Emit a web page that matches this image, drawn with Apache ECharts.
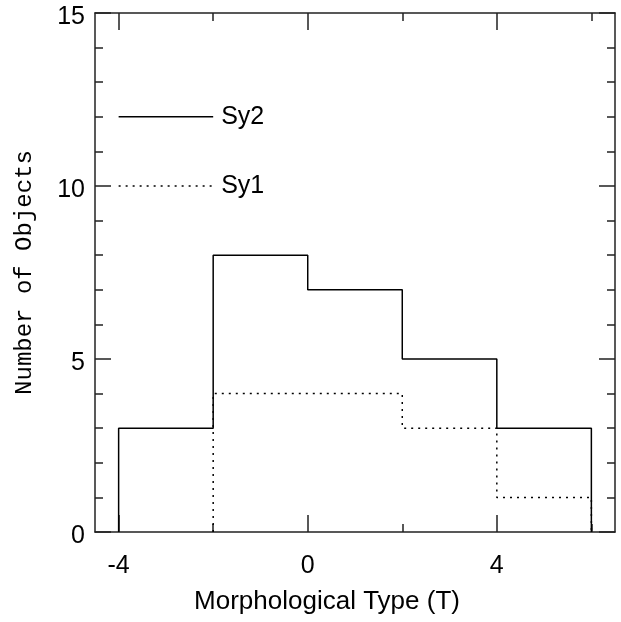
<!DOCTYPE html>
<html>
<head>
<meta charset="utf-8">
<script src="https://cdn.jsdelivr.net/npm/echarts@6/dist/echarts.min.js"></script>
<style>
  html, body { margin: 0; padding: 0; background: #fff; }
  #chart { width: 621px; height: 622px; }
</style>
</head>
<body>
<div id="chart"></div>
<script>
// histogram bins (morphological type T) and counts
const sy2Edges = [-4, -2, 0, 2, 4, 6];
const sy2Counts = [3, 8, 7, 5, 3];
const sy1Edges = [-2, 0, 2, 4, 6];
const sy1Counts = [4, 4, 3, 1];

// in-plot legend samples
const keyX = [-4, -2];
const sy2KeyY = 12;
const sy1KeyY = 10;

const majorX = [-4, 0, 4];
const minorX = [-2, 2, 6];

// outline of a histogram: up from 0, across each bin, back down to 0
function stepOutline(edges, counts) {
  const pts = [[edges[0], 0]];
  counts.forEach((c, i) => {
    pts.push([edges[i], c]);
    pts.push([edges[i + 1], c]);
  });
  pts.push([edges[edges.length - 1], 0]);
  return pts;
}

function keyLine(y) {
  return keyX.map(x => [x, y]);
}

const axisColor = "#222";
const sans = "Liberation Sans";

function xAxisDef(pos, ticks, len, showLine, showLabel) {
  return {
    type: "value", position: pos, min: -4.5, max: 6.5,
    axisLine: { show: showLine, onZero: false, lineStyle: { color: axisColor, width: 1.5 } },
    axisTick: { show: true, inside: true, length: len, customValues: ticks, lineStyle: { color: axisColor, width: 1.5 } },
    axisLabel: { show: showLabel, customValues: ticks, margin: 22, color: "#000", fontFamily: sans, fontSize: 25 },
    splitLine: { show: false }
  };
}

function yAxisDef(pos, showLabel) {
  return {
    type: "value", position: pos, min: 0, max: 15, interval: 5,
    axisLine: { show: true, onZero: false, lineStyle: { color: axisColor, width: 1.5 } },
    axisTick: { show: true, inside: true, length: 16, lineStyle: { color: axisColor, width: 1.5 } },
    minorTick: { show: true, splitNumber: 5, length: 8, lineStyle: { color: axisColor, width: 1.5 } },
    axisLabel: {
      show: showLabel, margin: 10, verticalAlign: "top", lineHeight: 8,
      color: "#000", fontFamily: sans, fontSize: 25
    },
    splitLine: { show: false }
  };
}

const chart = echarts.init(document.getElementById("chart"));

const xBottom = xAxisDef("bottom", majorX, 17, true, true);
xBottom.name = "Morphological Type (T)";
xBottom.nameLocation = "middle";
xBottom.nameGap = 57;
xBottom.nameTextStyle = { color: "#000", fontFamily: sans, fontSize: 26, padding: [0, 56, 0, 0] };

const yLeft = yAxisDef("left", true);
yLeft.name = "Number of Objects";
yLeft.nameLocation = "middle";
yLeft.nameGap = 58;
yLeft.nameTextStyle = { color: "#000", fontFamily: "Liberation Mono", fontSize: 24 };

const solid = { color: "#000", width: 1.5 };
const dotted = { color: "#000", width: 1.5, type: [2, 5] };
function keyLabel(text) {
  return { show: true, formatter: text, distance: 8, color: "#000", fontFamily: sans, fontSize: 25 };
}

chart.setOption({
  animation: false,
  grid: { left: 95, top: 13, right: 6, bottom: 90, outerBoundsMode: "none" },
  xAxis: [
    xBottom,
    xAxisDef("bottom", minorX, 8, false, false),
    xAxisDef("top", majorX, 17, true, false),
    xAxisDef("top", minorX, 8, false, false)
  ],
  yAxis: [yLeft, yAxisDef("right", false)],
  series: [
    { name: "Sy2", type: "line", data: stepOutline(sy2Edges, sy2Counts), symbol: "none", lineStyle: solid },
    { name: "Sy1", type: "line", data: stepOutline(sy1Edges, sy1Counts), symbol: "none", lineStyle: dotted },
    { name: "Sy2 key", type: "line", data: keyLine(sy2KeyY), symbol: "none", lineStyle: solid, endLabel: keyLabel("Sy2") },
    { name: "Sy1 key", type: "line", data: keyLine(sy1KeyY), symbol: "none", lineStyle: dotted, endLabel: keyLabel("Sy1") }
  ]
});

window.addEventListener("resize", () => chart.resize());
</script>
</body>
</html>
